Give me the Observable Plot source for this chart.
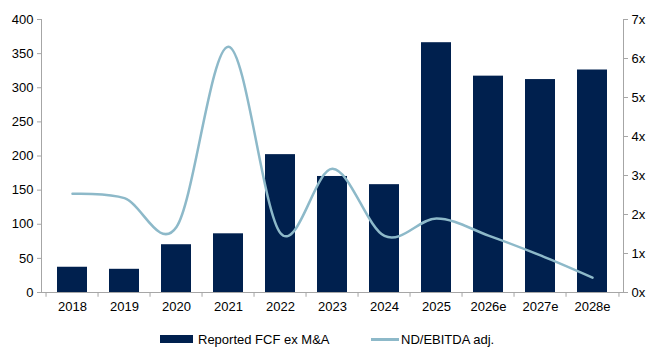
<!DOCTYPE html>
<html><head><meta charset="utf-8">
<script src="https://cdn.jsdelivr.net/npm/d3@7"></script>
<script src="https://cdn.jsdelivr.net/npm/@observablehq/plot@0.6"></script>
<style>
body{margin:0;background:#fff;font-family:"Liberation Sans",Arial,sans-serif;}
#wrap{position:relative;width:651px;height:347px;}
#legend{position:absolute;left:0;top:331px;width:651px;height:16px;font-size:13px;color:#000;}
.li{position:absolute;top:0;display:flex;align-items:center;height:16px;white-space:nowrap;}
</style></head>
<body><div id="wrap"><div id="chart"></div>
<div id="legend">
  <div class="li" style="left:160px"><span style="display:inline-block;width:33px;height:8px;background:#00204E;margin-right:5px"></span>Reported FCF ex M&amp;A</div>
  <div class="li" style="left:371px"><span style="display:inline-block;width:28px;height:3px;background:#8DB9C9;margin-right:2px"></span>ND/EBITDA adj.</div>
</div></div>
<script>
const years = ["2018","2019","2020","2021","2022","2023","2024","2025","2026e","2027e","2028e"];
const fcf = [37, 34, 70, 86, 202, 170, 158, 366, 317, 312, 326];
const ndEbitda = [2.53, 2.42, 1.68, 6.3, 1.52, 3.17, 1.45, 1.9, 1.46, 0.95, 0.38];
const leftTicks = [0, 50, 100, 150, 200, 250, 300, 350, 400];
const rightTicks = [0, 1, 2, 3, 4, 5, 6, 7];

const W = 651, H = 322, ML = 41, MR = 28, MT = 19, MB = 30;
const k = 400 / 7;
const step = (W - ML - MR) / years.length;
const rows = years.map((y, i) => ({year: y, fcf: fcf[i], nd: ndEbitda[i]}));
const grey = "#A6A6A6";

const chart = Plot.plot({
  width: W, height: H,
  marginLeft: ML, marginRight: MR, marginTop: MT, marginBottom: MB,
  style: {fontFamily: '"Liberation Sans", Arial, sans-serif', fontSize: "13px", color: "#000", background: "#fff"},
  x: {domain: years, paddingInner: 0.43, paddingOuter: 0.215, axis: null},
  y: {domain: [0, 400], axis: null},
  marks: [
    Plot.barY(rows, {x: "year", y: "fcf", fill: "#00204E"}),
    Plot.line(rows, {x: "year", y: d => d.nd * k, stroke: "#8DB9C9", strokeWidth: 2.5, curve: "cardinal", tension: 0}),
    Plot.ruleY([0], {stroke: grey}),
    Plot.frame({anchor: "left", stroke: grey}),
    Plot.frame({anchor: "right", stroke: grey}),
    Plot.ruleX(years, {x: d => d, y1: 0, y2: -7, dx: -step / 2, stroke: grey}),
    Plot.ruleX([years[years.length - 1]], {x: d => d, y1: 0, y2: -7, dx: step / 2, stroke: grey}),
    Plot.axisX({tickSize: 0, tickPadding: 9, label: null, fontSize: 13}),
    Plot.axisY({anchor: "left", ticks: leftTicks, tickSize: 4, tickPadding: 4, label: null, stroke: grey, fontSize: 13}),
    Plot.axisY({anchor: "right", ticks: rightTicks.map(v => v * k), tickFormat: d => Math.round(d / k) + "x", tickSize: 4, tickPadding: 4, label: null, stroke: grey, fontSize: 13})
  ]
});
document.getElementById("chart").appendChild(chart);
</script></body></html>
